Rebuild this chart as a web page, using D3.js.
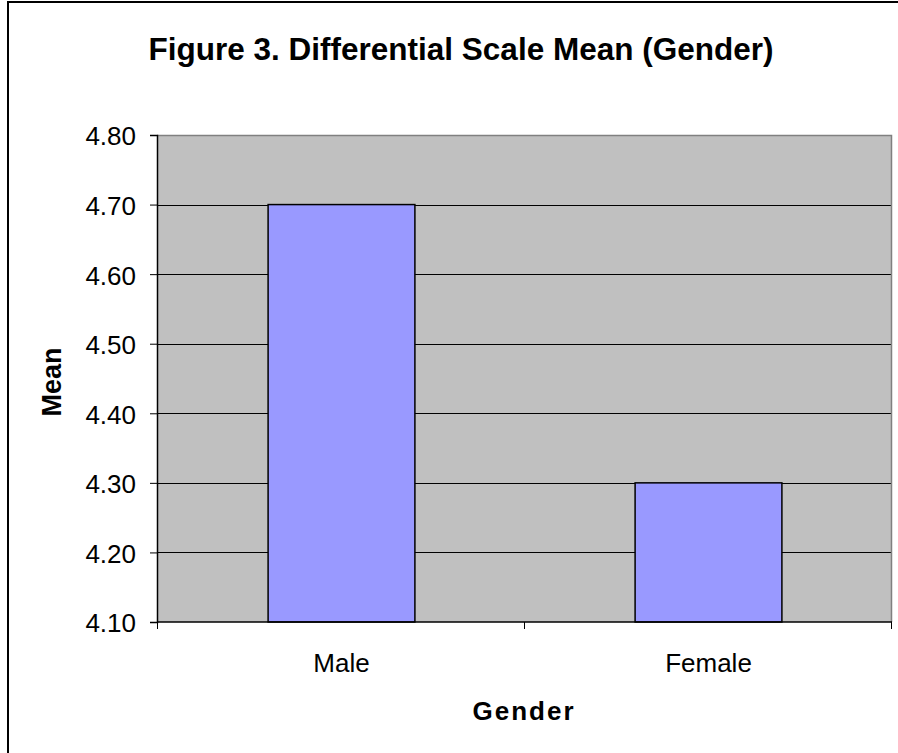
<!DOCTYPE html>
<html>
<head>
<meta charset="utf-8">
<script src="https://cdn.jsdelivr.net/npm/d3@7/dist/d3.min.js"></script>
<style>
  html, body { margin: 0; padding: 0; background: #fff; }
  svg { display: block; font-family: Arial, "Liberation Sans", Helvetica, sans-serif; }
</style>
</head>
<body>
<svg id="chart" width="898" height="753"></svg>
<script>
// Chart data
const categories = ["Male", "Female"];
const means = [4.70, 4.30];
const yTicks = [4.10, 4.20, 4.30, 4.40, 4.50, 4.60, 4.70, 4.80];
const titleText = "Figure 3. Differential Scale Mean (Gender)";
const xTitle = "Gender";
const yTitle = "Mean";

const svg = d3.select("#chart");
const W = 898, H = 753;

// Outer chart frame
svg.append("rect")
  .attr("x", 8).attr("y", 2)
  .attr("width", W + 10).attr("height", H + 10)
  .attr("fill", "#fff").attr("stroke", "#000").attr("stroke-width", 2);

const plot = { left: 157, top: 135, right: 891, bottom: 622 };

const x = d3.scaleBand().domain(categories).range([plot.left, plot.right]).paddingInner(0).paddingOuter(0);
const y = d3.scaleLinear().domain([4.10, 4.80]).range([plot.bottom, plot.top]);

// Plot area background
svg.append("rect")
  .attr("x", plot.left).attr("y", plot.top)
  .attr("width", plot.right - plot.left).attr("height", plot.bottom - plot.top)
  .attr("fill", "#c0c0c0");

// Gridlines
svg.append("g")
  .selectAll("line")
  .data(yTicks.filter(t => t > 4.10 && t < 4.80))
  .join("line")
  .attr("x1", plot.left).attr("x2", plot.right)
  .attr("y1", d => Math.round(y(d)) + 0.5).attr("y2", d => Math.round(y(d)) + 0.5)
  .attr("stroke", "#000").attr("stroke-width", 1);

// Top and right plot borders
svg.append("path")
  .attr("d", `M${plot.left},${plot.top + 0.5}H${plot.right + 0.5}V${plot.bottom}`)
  .attr("fill", "none").attr("stroke", "#808080").attr("stroke-width", 1.5);

// Bars
const barW = x.bandwidth() * 0.4;
svg.append("g")
  .selectAll("rect")
  .data(categories.map((c, i) => ({ c, v: means[i] })))
  .join("rect")
  .attr("x", d => x(d.c) + (x.bandwidth() - barW) / 2 + 1)
  .attr("y", d => y(d.v))
  .attr("width", barW)
  .attr("height", d => y(4.10) - y(d.v))
  .attr("fill", "#9999ff")
  .attr("stroke", "#000").attr("stroke-width", 1.5);

// Y axis
const yAxis = d3.axisLeft(y).tickValues(yTicks).tickFormat(d3.format(".2f")).tickSize(7).tickPadding(14);
const gy = svg.append("g").attr("transform", `translate(${plot.left},0)`).call(yAxis);
gy.select(".domain").attr("stroke", "#000").attr("stroke-width", 1.5);
gy.selectAll(".tick line").attr("stroke", "#000");
gy.selectAll("text").attr("font-size", 26).attr("fill", "#000").attr("dy", "0.38em");

// X axis: ticks at category boundaries
const gx = svg.append("g").attr("transform", `translate(0,${plot.bottom})`);
gx.append("line")
  .attr("x1", plot.left).attr("x2", plot.right + 1)
  .attr("y1", 0).attr("y2", 0)
  .attr("stroke", "#000").attr("stroke-width", 1.5);
const bounds = [plot.left, ...categories.map(c => x(c) + x.bandwidth())];
gx.selectAll("line.tk")
  .data(bounds)
  .join("line")
  .attr("class", "tk")
  .attr("x1", d => d + 0.5).attr("x2", d => d + 0.5)
  .attr("y1", 0).attr("y2", 7)
  .attr("stroke", "#000");
gx.selectAll("text")
  .data(categories)
  .join("text")
  .attr("x", d => x(d) + x.bandwidth() / 2 + 1)
  .attr("y", 50)
  .attr("text-anchor", "middle")
  .attr("font-size", 26)
  .attr("fill", "#000")
  .text(d => d);

// Title
svg.append("text")
  .attr("x", 461).attr("y", 60)
  .attr("text-anchor", "middle")
  .attr("font-size", 31.5).attr("font-weight", "bold")
  .text(titleText);

// Axis titles
svg.append("text")
  .attr("x", 524).attr("y", 720)
  .attr("text-anchor", "middle")
  .attr("font-size", 26).attr("font-weight", "bold")
  .attr("letter-spacing", 2)
  .text(xTitle);

svg.append("text")
  .attr("transform", "translate(61,382) rotate(-90)")
  .attr("text-anchor", "middle")
  .attr("font-size", 27).attr("font-weight", "bold")
  .text(yTitle);
</script>
</body>
</html>
